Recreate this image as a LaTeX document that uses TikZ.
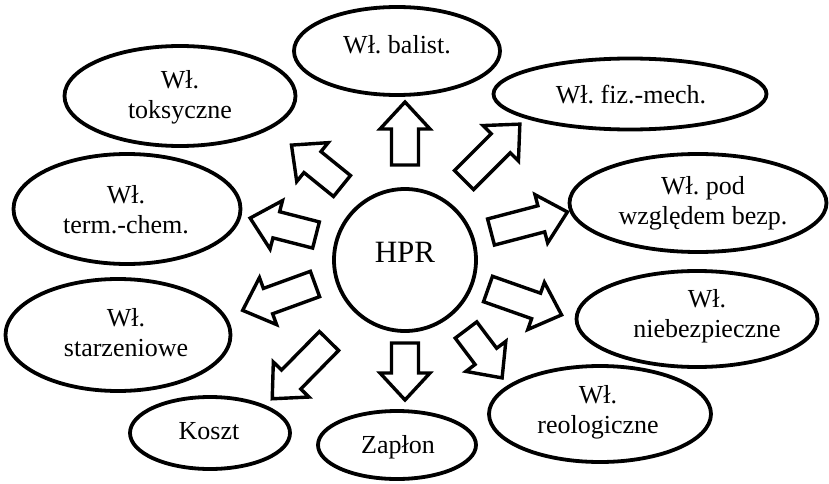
\documentclass[tikz,border=0pt]{standalone}
\usepackage{fontspec}
\setmainfont{Liberation Serif}
\frenchspacing
\usetikzlibrary{shapes.geometric}
\newcommand\blockarr[4]{% name, tail, angle, length
  \coordinate (#1) at #2;
  \begin{scope}[shift={(#1)}, rotate=#3]
    \draw[blk] (0pt,-13.5pt) -- ({#4pt-27pt},-13.5pt) -- ({#4pt-27pt},-25pt)
      -- (#4pt,0pt) -- ({#4pt-27pt},25pt) -- ({#4pt-27pt},13.5pt) -- (0pt,13.5pt) -- cycle;
  \end{scope}}
\begin{document}
\begin{tikzpicture}[x=1pt,y=-1pt,
  ell/.style={draw, ellipse, line width=3.8pt, inner sep=0pt},
  lbl/.style={font=\fontsize{26}{30}\selectfont, align=center, inner sep=0pt},
  blk/.style={draw, line width=3.4pt, line join=miter}]
\useasboundingbox (0,0) rectangle (829,484);

% ellipses
\node[ell, minimum width=206pt, minimum height=88pt] (bal) at (397,51) {};
\node[ell, minimum width=231pt, minimum height=100pt] (tok) at (180,96) {};
\node[ell, minimum width=273pt, minimum height=71pt] (fiz) at (630,94) {};
\node[ell, minimum width=257pt, minimum height=98pt] (bez) at (698,203) {};
\node[ell, minimum width=241pt, minimum height=96pt] (nie) at (697,319) {};
\node[ell, minimum width=222pt, minimum height=96pt] (reo) at (600,414) {};
\node[ell, minimum width=158pt, minimum height=68pt] (zap) at (397,445) {};
\node[ell, minimum width=160pt, minimum height=72pt] (kos) at (210,433) {};
\node[ell, minimum width=225pt, minimum height=112pt] (sta) at (118,335) {};
\node[ell, minimum width=227pt, minimum height=110pt] (ter) at (127,209) {};
\node[ell, circle, minimum size=142pt] (hpr) at (405,260) {};

% labels
\node[lbl] (tbal) at (397,45) {Wł. balist.};
\node[lbl] (ttok) at (180,97) {Wł.\\toksyczne};
\node[lbl] (tfiz) at (631,95) {Wł. fiz.-mech.};
\node[lbl] (tbez) at (703,203) {Wł. pod\\względem bezp.};
\node[lbl] (tnie) at (707,316) {Wł.\\niebezpieczne};
\node[lbl] (treo) at (598,412) {Wł.\\reologiczne};
\node[lbl] (tzap) at (398,447) {Zapłon};
\node[lbl] (tkos) at (209,431) {Koszt};
\node[lbl] (tsta) at (126,333) {Wł.\\starzeniowe};
\node[lbl] (tter) at (126,210) {Wł.\\term.-chem.};
\node[lbl, font=\fontsize{31}{34}\selectfont] (thpr) at (405,252) {HPR};

% block arrows
\blockarr{aup}{(405,165)}{90}{63}
\blockarr{aur}{(464,180)}{45}{79}
\blockarr{ar}{(491,232)}{14.7}{79}
\blockarr{alr}{(488,289)}{-19.4}{78}
\blockarr{adr}{(466,330)}{-53}{60}
\blockarr{ad}{(405,343)}{-90}{57}
\blockarr{adl}{(329,341)}{225.5}{81}
\blockarr{al2}{(315,284)}{200}{77}
\blockarr{al}{(316,235)}{165.6}{68}
\blockarr{aul}{(342,186)}{141}{65}
\end{tikzpicture}
\end{document}
